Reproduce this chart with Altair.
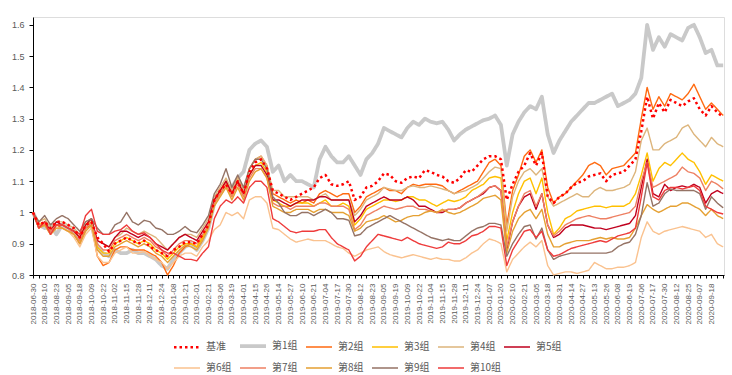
import json
import altair as alt
import pandas as pd

DATES = [
    "2018-06-30", "2018-08-10", "2018-08-23", "2018-09-05", "2018-09-18", "2018-10-09",
    "2018-10-22", "2018-11-02", "2018-11-15", "2018-11-28", "2018-12-11", "2018-12-24",
    "2019-01-08", "2019-01-21", "2019-02-01", "2019-02-21", "2019-03-06", "2019-03-19",
    "2019-04-01", "2019-04-15", "2019-04-26", "2019-05-14", "2019-05-27", "2019-06-10",
    "2019-06-21", "2019-07-04", "2019-07-17", "2019-07-30", "2019-08-12", "2019-08-23",
    "2019-09-05", "2019-09-19", "2019-10-09", "2019-10-22", "2019-11-04", "2019-11-15",
    "2019-11-28", "2019-12-11", "2019-12-24", "2020-01-07", "2020-01-20", "2020-02-10",
    "2020-02-21", "2020-03-05", "2020-03-18", "2020-03-31", "2020-04-14", "2020-04-27",
    "2020-05-13", "2020-05-26", "2020-06-08", "2020-06-19", "2020-07-06", "2020-07-17",
    "2020-07-30", "2020-08-12", "2020-08-25", "2020-09-07", "2020-09-18",
]

BENCH = [
    1.00, 0.96, 0.97, 0.95, 0.97, 0.97, 0.96, 0.95, 0.92, 0.96,
    0.97, 0.92, 0.90, 0.875, 0.90, 0.91, 0.92, 0.91, 0.90, 0.91,
    0.89, 0.88, 0.87, 0.86, 0.88, 0.89, 0.905, 0.905, 0.90, 0.93,
    0.96, 1.04, 1.07, 1.09, 1.06, 1.10, 1.06, 1.13, 1.16, 1.17,
    1.14, 1.07, 1.06, 1.05, 1.04, 1.05, 1.06, 1.07, 1.08, 1.11,
    1.12, 1.09, 1.085, 1.09, 1.10, 1.04, 1.05, 1.08, 1.085, 1.10,
    1.125, 1.12, 1.10, 1.095, 1.11, 1.115, 1.11, 1.135, 1.13, 1.12,
    1.115, 1.10, 1.095, 1.11, 1.135, 1.13, 1.15, 1.17, 1.18, 1.18,
    1.17, 1.04, 1.09, 1.13, 1.15, 1.19, 1.15, 1.19, 1.05, 1.03,
    1.05, 1.06, 1.08, 1.095, 1.10, 1.115, 1.12, 1.125, 1.10, 1.12,
    1.125, 1.13, 1.15, 1.17, 1.26, 1.37, 1.30, 1.35, 1.32, 1.36,
    1.35, 1.34, 1.355, 1.365, 1.33, 1.31, 1.34, 1.32, 1.305,
]
G1 = [
    1.00, 0.96, 0.95, 0.96, 0.93, 0.96, 0.95, 0.94, 0.91, 0.95,
    0.96, 0.89, 0.87, 0.86, 0.88, 0.87, 0.87, 0.88, 0.87, 0.87,
    0.86, 0.85, 0.83, 0.82, 0.85, 0.87, 0.89, 0.90, 0.88, 0.91,
    0.95, 1.03, 1.06, 1.09, 1.08, 1.11, 1.13, 1.20, 1.22, 1.23,
    1.21, 1.13, 1.15, 1.10, 1.12, 1.10, 1.10, 1.09, 1.08, 1.17,
    1.21, 1.18, 1.16, 1.16, 1.18, 1.15, 1.12, 1.17, 1.19, 1.22,
    1.27, 1.26, 1.25, 1.24, 1.27, 1.29, 1.28, 1.30, 1.29, 1.285,
    1.29, 1.265, 1.23, 1.25, 1.265, 1.275, 1.285, 1.295, 1.30, 1.31,
    1.28, 1.15, 1.25, 1.29, 1.32, 1.34, 1.33, 1.37, 1.25, 1.19,
    1.23, 1.26, 1.29, 1.31, 1.33, 1.35, 1.35, 1.36, 1.37, 1.38,
    1.34, 1.35, 1.36, 1.38, 1.43, 1.60, 1.52, 1.56, 1.53, 1.57,
    1.56, 1.55, 1.59, 1.60, 1.56, 1.51, 1.52, 1.47, 1.47,
]
G2 = [
    1.00, 0.95, 0.96, 0.93, 0.96, 0.95, 0.94, 0.93, 0.90, 0.95,
    0.96, 0.86, 0.83, 0.84, 0.88, 0.89, 0.89, 0.88, 0.88, 0.88,
    0.87, 0.86, 0.84, 0.80, 0.83, 0.87, 0.89, 0.90, 0.89, 0.92,
    0.96, 1.04, 1.07, 1.10, 1.06, 1.11, 1.07, 1.14, 1.17, 1.18,
    1.15, 1.06, 1.05, 1.04, 1.03, 1.04, 1.03, 1.04, 1.03, 1.06,
    1.07, 1.06, 1.05, 1.06, 1.06, 1.00, 1.02, 1.05, 1.06, 1.07,
    1.08, 1.07, 1.07, 1.06, 1.08, 1.09, 1.085, 1.09, 1.09, 1.09,
    1.085, 1.07, 1.06, 1.07, 1.08, 1.09, 1.10, 1.13, 1.16, 1.17,
    1.15, 0.96, 1.07, 1.12, 1.18, 1.20, 1.16, 1.20, 1.08, 1.03,
    1.05, 1.06, 1.08, 1.10, 1.12, 1.15, 1.16, 1.15, 1.12, 1.14,
    1.145, 1.15, 1.17, 1.19, 1.30, 1.40, 1.33, 1.37, 1.34, 1.38,
    1.37, 1.36, 1.38, 1.41, 1.37, 1.33, 1.35, 1.33, 1.31,
]
G3 = [
    1.00, 0.96, 0.97, 0.94, 0.96, 0.96, 0.95, 0.94, 0.92, 0.96,
    0.97, 0.89, 0.87, 0.87, 0.90, 0.91, 0.92, 0.91, 0.90, 0.91,
    0.90, 0.88, 0.87, 0.85, 0.87, 0.89, 0.90, 0.90, 0.89, 0.92,
    0.96, 1.03, 1.06, 1.09, 1.05, 1.10, 1.06, 1.12, 1.15, 1.16,
    1.13, 1.04, 1.03, 1.02, 1.02, 1.03, 1.03, 1.03, 1.02, 1.03,
    1.04, 1.02, 1.02, 1.03, 1.02, 0.96, 0.98, 1.01, 1.02, 1.03,
    1.04, 1.04, 1.035, 1.04, 1.05, 1.05, 1.04, 1.04, 1.03, 1.02,
    1.03, 1.04, 1.035, 1.04, 1.05, 1.07, 1.08, 1.09, 1.11, 1.115,
    1.11, 0.91, 1.00, 1.06, 1.10, 1.11, 1.06, 1.11, 1.00, 0.93,
    0.95, 0.98, 0.99, 1.005, 1.01, 1.015, 1.02, 1.02, 1.015, 1.02,
    1.02, 1.02, 1.03, 1.06, 1.12, 1.19, 1.10, 1.14, 1.16, 1.15,
    1.17, 1.19, 1.17, 1.16, 1.13, 1.09, 1.12, 1.11, 1.10,
]
G4 = [
    1.00, 0.97, 0.98, 0.95, 0.97, 0.97, 0.96, 0.95, 0.93, 0.97,
    0.98, 0.91, 0.90, 0.89, 0.92, 0.93, 0.95, 0.94, 0.93, 0.94,
    0.93, 0.92, 0.90, 0.88, 0.90, 0.92, 0.93, 0.93, 0.92, 0.95,
    0.98, 1.05, 1.08, 1.11, 1.07, 1.11, 1.07, 1.14, 1.17, 1.18,
    1.15, 1.07, 1.07, 1.05, 1.05, 1.05, 1.05, 1.05, 1.04, 1.05,
    1.06, 1.04, 1.04, 1.04, 1.04, 0.99, 1.01, 1.04, 1.05, 1.06,
    1.08, 1.075, 1.07, 1.07, 1.08, 1.085, 1.08, 1.08, 1.085, 1.08,
    1.075, 1.07, 1.06, 1.065, 1.07, 1.08, 1.09, 1.11, 1.13, 1.145,
    1.14, 0.94, 1.05, 1.10, 1.13, 1.14, 1.12, 1.14, 1.05, 1.02,
    1.03, 1.04, 1.05, 1.06, 1.05, 1.05, 1.07, 1.08, 1.07, 1.07,
    1.075, 1.08, 1.09, 1.13, 1.23, 1.27, 1.20, 1.20, 1.22, 1.23,
    1.24, 1.27, 1.28, 1.25, 1.23, 1.21, 1.24, 1.22, 1.21,
]
G5 = [
    1.00, 0.95, 0.97, 0.94, 0.97, 0.96, 0.95, 0.94, 0.92, 0.96,
    0.98, 0.91, 0.90, 0.89, 0.92, 0.94, 0.94, 0.93, 0.92, 0.93,
    0.92, 0.90, 0.89, 0.88, 0.90, 0.92, 0.93, 0.92, 0.91, 0.94,
    0.97, 1.04, 1.07, 1.10, 1.06, 1.10, 1.06, 1.12, 1.15, 1.15,
    1.12, 1.04, 1.04, 1.03, 1.02, 1.03, 1.04, 1.04, 1.04, 1.05,
    1.05, 1.04, 1.04, 1.04, 1.04, 0.97, 0.99, 1.02, 1.03, 1.04,
    1.05, 1.04, 1.04, 1.04, 1.05, 1.04, 1.02, 1.02, 1.01, 1.00,
    1.00, 1.01, 1.01, 1.015, 1.03, 1.04, 1.05, 1.06, 1.08, 1.085,
    1.07, 0.88, 0.97, 1.02, 1.05, 1.06, 1.01, 1.06, 0.96, 0.92,
    0.93, 0.95, 0.96, 0.96, 0.96, 0.955, 0.95, 0.95, 0.945, 0.95,
    0.955, 0.96, 0.965, 0.99, 1.08, 1.17, 1.06, 1.05, 1.09, 1.07,
    1.08, 1.085, 1.08, 1.09, 1.08, 1.03, 1.06, 1.07, 1.06,
]
G6 = [
    1.00, 0.95, 0.96, 0.93, 0.95, 0.95, 0.94, 0.92, 0.89, 0.93,
    0.95, 0.86, 0.84, 0.84, 0.87, 0.88, 0.89, 0.87, 0.87, 0.875,
    0.86, 0.85, 0.84, 0.82, 0.84, 0.86, 0.87, 0.87, 0.86, 0.89,
    0.91, 0.945, 0.96, 1.00, 0.99, 1.00, 0.98, 1.04, 1.05, 1.05,
    1.03, 0.95, 0.945, 0.93, 0.915, 0.905, 0.91, 0.915, 0.91, 0.91,
    0.91, 0.90, 0.89, 0.885, 0.87, 0.86, 0.87, 0.88, 0.885, 0.89,
    0.875, 0.865, 0.86, 0.855, 0.86, 0.865, 0.86, 0.855, 0.85, 0.855,
    0.85, 0.85, 0.845, 0.845, 0.855, 0.87, 0.88, 0.90, 0.915, 0.91,
    0.90, 0.81, 0.85, 0.87, 0.89, 0.905, 0.89, 0.91, 0.83, 0.80,
    0.805, 0.81, 0.81, 0.805, 0.81, 0.815, 0.84, 0.83, 0.82, 0.82,
    0.825, 0.825, 0.83, 0.84, 0.92, 0.97, 0.94, 0.93, 0.94, 0.945,
    0.95, 0.955, 0.95, 0.945, 0.94, 0.92, 0.93, 0.90, 0.89,
]
G7 = [
    1.00, 0.96, 0.96, 0.94, 0.96, 0.96, 0.95, 0.93, 0.91, 0.95,
    0.97, 0.90, 0.88, 0.88, 0.91, 0.92, 0.93, 0.92, 0.91, 0.92,
    0.91, 0.89, 0.88, 0.86, 0.88, 0.90, 0.91, 0.91, 0.90, 0.93,
    0.96, 1.03, 1.06, 1.09, 1.05, 1.09, 1.05, 1.11, 1.14, 1.14,
    1.11, 1.03, 1.02, 1.02, 1.01, 1.02, 1.02, 1.02, 1.02, 1.03,
    1.03, 1.02, 1.02, 1.02, 1.01, 0.945, 0.96, 0.99, 1.00, 1.01,
    1.02, 1.015, 1.01, 1.015, 1.02, 1.02, 1.01, 1.01, 1.005, 1.00,
    1.005, 1.01, 1.01, 1.015, 1.03, 1.04, 1.05, 1.065, 1.08, 1.085,
    1.07, 0.89, 0.97, 1.02, 1.06, 1.07, 1.02, 1.06, 0.96, 0.925,
    0.94, 0.96, 0.97, 0.98, 0.985, 0.99, 0.985, 0.98, 0.98, 0.985,
    0.99, 0.995, 1.00, 1.02, 1.10, 1.16, 1.08, 1.09, 1.10, 1.11,
    1.12, 1.145, 1.13, 1.125, 1.11, 1.07, 1.10, 1.09, 1.075,
]
G8 = [
    1.00, 0.95, 0.96, 0.93, 0.95, 0.95, 0.94, 0.93, 0.90, 0.94,
    0.96, 0.88, 0.86, 0.86, 0.89, 0.90, 0.91, 0.90, 0.89, 0.90,
    0.89, 0.87, 0.86, 0.84, 0.86, 0.88, 0.895, 0.89, 0.88, 0.91,
    0.95, 1.02, 1.05, 1.08, 1.04, 1.08, 1.04, 1.10, 1.13, 1.14,
    1.11, 1.02, 1.01, 1.00, 1.00, 1.01, 1.01, 1.01, 1.00, 1.01,
    1.01, 1.00, 1.00, 1.00, 0.99, 0.94, 0.95, 0.97, 0.975, 0.98,
    0.99, 0.98, 0.97, 0.975, 0.985, 0.99, 0.99, 1.00, 1.005, 1.00,
    1.01, 1.00, 0.995, 1.00, 1.01, 1.02, 1.03, 1.045, 1.05, 1.055,
    1.04, 0.87, 0.94, 0.98, 1.00, 1.01, 0.98, 1.01, 0.93, 0.89,
    0.89, 0.90, 0.905, 0.91, 0.91, 0.91, 0.915, 0.92, 0.915, 0.92,
    0.915, 0.915, 0.92, 0.95, 0.99, 1.025, 1.01, 1.00, 1.01, 1.02,
    1.02, 1.03, 1.03, 1.02, 1.01, 0.99, 1.01, 0.99, 0.98,
]
G9 = [
    1.00, 0.97, 0.99, 0.96, 0.98, 0.99, 0.98, 0.96, 0.94, 0.97,
    0.98, 0.95, 0.93, 0.93, 0.96, 0.97, 1.00, 0.97, 0.96, 0.975,
    0.97, 0.95, 0.945, 0.93, 0.93, 0.94, 0.955, 0.94, 0.935, 0.96,
    0.99, 1.06, 1.09, 1.14, 1.08, 1.12, 1.08, 1.14, 1.17, 1.17,
    1.14, 1.05, 1.03, 1.00, 0.99, 0.99, 1.00, 1.00, 0.99, 1.00,
    1.01, 1.00, 0.98, 0.98, 0.975, 0.925, 0.93, 0.95, 0.96, 0.97,
    0.98, 0.99, 0.98, 0.97, 0.96, 0.95, 0.94, 0.93, 0.92, 0.915,
    0.91, 0.915, 0.91, 0.91, 0.925, 0.94, 0.95, 0.955, 0.965, 0.965,
    0.96, 0.86, 0.90, 0.93, 0.955, 0.96, 0.915, 0.95, 0.88, 0.85,
    0.86, 0.865, 0.87, 0.87, 0.87, 0.87, 0.87, 0.87, 0.87, 0.875,
    0.89, 0.90, 0.905, 0.93, 0.99, 1.095, 1.02, 1.03, 1.06, 1.075,
    1.07, 1.07, 1.07, 1.07, 1.06, 1.01, 1.05, 1.03, 1.015,
]
G10 = [
    1.00, 0.95, 0.97, 0.93, 0.96, 0.96, 0.95, 0.94, 0.93, 0.99,
    1.01, 0.94, 0.93, 0.93, 0.94, 0.945, 0.96, 0.94, 0.93, 0.935,
    0.92, 0.90, 0.88, 0.87, 0.87, 0.86, 0.85, 0.85, 0.845, 0.87,
    0.89, 0.98, 1.02, 1.04, 1.03, 1.05, 1.03, 1.08, 1.10, 1.10,
    1.08, 0.98, 0.97, 0.955, 0.94, 0.935, 0.94, 0.94, 0.94, 0.945,
    0.945, 0.92, 0.90, 0.89, 0.88, 0.845, 0.86, 0.89, 0.91, 0.93,
    0.925, 0.92, 0.915, 0.91, 0.92, 0.91, 0.90, 0.895, 0.89, 0.885,
    0.89, 0.905, 0.90, 0.90, 0.91, 0.925, 0.93, 0.94, 0.955, 0.955,
    0.95, 0.83, 0.88, 0.91, 0.94, 0.945, 0.92, 0.94, 0.88, 0.86,
    0.865, 0.875, 0.885, 0.89, 0.895, 0.90, 0.905, 0.91, 0.905, 0.915,
    0.925, 0.93, 0.935, 0.95, 1.05, 1.16, 1.05, 1.04, 1.07, 1.08,
    1.08, 1.075, 1.08, 1.085, 1.07, 1.02, 1.01, 1.00, 0.995,
]

# position index: one unit per labelled date, samples every half interval
T = [i / 2 for i in range(len(BENCH))]

NAMES = ["基准", "第1组", "第2组", "第3组", "第4组", "第5组",
         "第6组", "第7组", "第8组", "第9组", "第10组"]
VALUES = [BENCH, G1, G2, G3, G4, G5, G6, G7, G8, G9, G10]
COLORS = ["#FF0000", "#C9C9C9", "#FF6A10", "#FFC000", "#DDB57C", "#C0001E",
          "#FAC28F", "#EE8063", "#E5A032", "#957365", "#EE3B3B"]
DASHES = [[2.5, 3]] + [[1, 0]] * 10
WIDTHS = [2.5, 3.8] + [1.4] * 9

DRAW_ORDER = NAMES[1:] + [NAMES[0]]
lookup = dict(zip(NAMES, VALUES))
rows = []
for name in DRAW_ORDER:
    for t, v in zip(T, lookup[name]):
        rows.append({"t": t, "v": v, "series": name})
df = pd.DataFrame(rows)

label_expr = ("(datum.value % 1 == 0 && datum.value < " + str(len(DATES)) + ") ? "
              + json.dumps(DATES) + "[datum.value] : ''")

leg = alt.Legend(
    title=None, orient="none", legendX=139, legendY=314, direction="horizontal",
    columns=6, symbolType="stroke", symbolSize=676, labelFontSize=10,
    labelFont="Noto Sans CJK SC", labelColor="#595959", labelOffset=4,
    columnPadding=-13, rowPadding=-15, gridAlign="all", padding=0,
)

chart = alt.Chart(df).mark_line(strokeCap="butt", strokeJoin="round").encode(
    x=alt.X("t:Q",
            scale=alt.Scale(domain=[0, 59.07], nice=False, zero=False),
            axis=alt.Axis(values=T, labelExpr=label_expr, labelAngle=270,
                          labelAlign="right", labelBaseline="middle",
                          labelFontSize=8, labelColor="#595959",
                          labelFont="Liberation Sans", tickSize=3,
                          tickColor="#000000", domainColor="#000000",
                          grid=False, title=None, labelOverlap=False,
                          labelPadding=5)),
    y=alt.Y("v:Q",
            scale=alt.Scale(domain=[0.8, 1.625], nice=False, zero=False),
            axis=alt.Axis(values=[0.8, 0.9, 1.0, 1.1, 1.2, 1.3, 1.4, 1.5, 1.6],
                          format=".1~f", labelFontSize=9, labelColor="#595959",
                          labelFont="Liberation Sans", tickSize=4,
                          tickColor="#000000", domainColor="#000000",
                          grid=False, title=None, labelPadding=5)),
    color=alt.Color("series:N", scale=alt.Scale(domain=NAMES, range=COLORS), legend=leg),
    strokeDash=alt.StrokeDash("series:N", scale=alt.Scale(type="ordinal", domain=NAMES, range=DASHES), legend=leg),
    strokeWidth=alt.StrokeWidth("series:N", scale=alt.Scale(type="ordinal", domain=NAMES, range=WIDTHS), legend=leg),
).properties(
    width=691, height=258,
    autosize=alt.AutoSizeParams(type="none"),
    padding={"left": 33, "top": 17, "right": 8, "bottom": 100},
).configure_view(stroke=None).configure(background="white")

chart.save("out.html", embed_options={"renderer": "svg", "actions": False})
